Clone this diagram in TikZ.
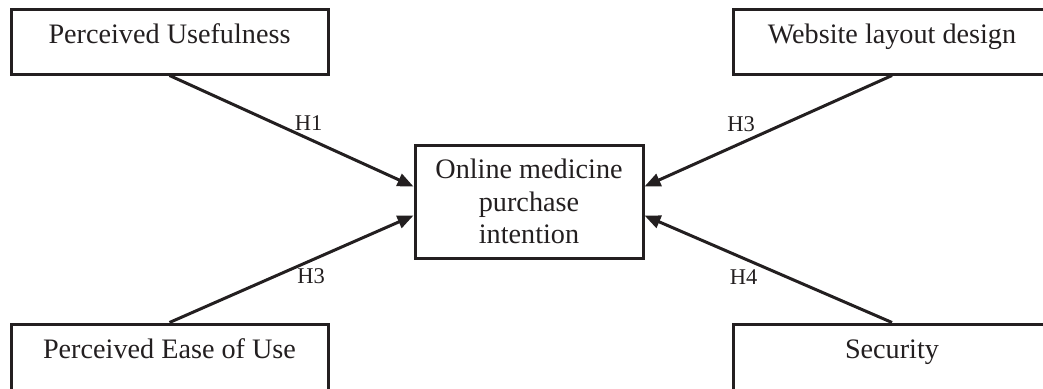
\documentclass[tikz,border=0pt]{standalone}
\usepackage{fontspec}
\setmainfont{Liberation Serif}
\usetikzlibrary{arrows.meta}
\definecolor{ink}{RGB}{35,31,32}
\begin{document}
\begin{tikzpicture}[x=1pt,y=-1pt,
  every node/.style={text=ink},
  factor/.style={draw=ink, line width=3pt, rectangle, minimum width=317pt,
    minimum height=65pt, inner sep=0pt, font=\fontsize{28.2}{33}\selectfont,
    text height=19pt, text depth=16pt},
  lower/.style={minimum height=75pt, text depth=26pt},
  target/.style={draw=ink, line width=3pt, rectangle, minimum width=228pt,
    minimum height=113pt, inner sep=0pt, align=center,
    font=\fontsize{28.2}{32.5}\selectfont},
  hyp/.style={font=\fontsize{22.5}{26}\selectfont, inner sep=0pt},
  link/.style={draw=ink, line width=3pt, -{Triangle[length=16pt,width=13pt]}}]
  \useasboundingbox (0,0) rectangle (1043,388);

  % construct boxes
  \node[factor] (pu)  at (169.5,41.5)  {Perceived Usefulness};
  \node[factor] (wld) at (892,41.5)    {Website layout design};
  \node[factor, lower] (peu) at (169.5,361.5) {Perceived Ease of Use};
  \node[factor, lower] (sec) at (892,361.5)   {Security};
  \node[target] (omp) at (529,201.5)   {Online medicine\\purchase\\intention};

  % hypothesised paths
  \draw[link] (pu.south)  -- node[hyp, pos=0.57, yshift=16pt] {H1} ([yshift=15pt]omp.west);
  \draw[link] (wld.south) -- node[hyp, pos=0.61, yshift=19pt] {H3} ([yshift=15pt]omp.east);
  \draw[link] (peu.north) -- node[hyp, pos=0.58, yshift=-16pt] {H3} ([yshift=-14pt]omp.west);
  \draw[link] (sec.north) -- node[hyp, pos=0.60, yshift=-19pt] {H4} ([yshift=-14pt]omp.east);
\end{tikzpicture}
\end{document}
